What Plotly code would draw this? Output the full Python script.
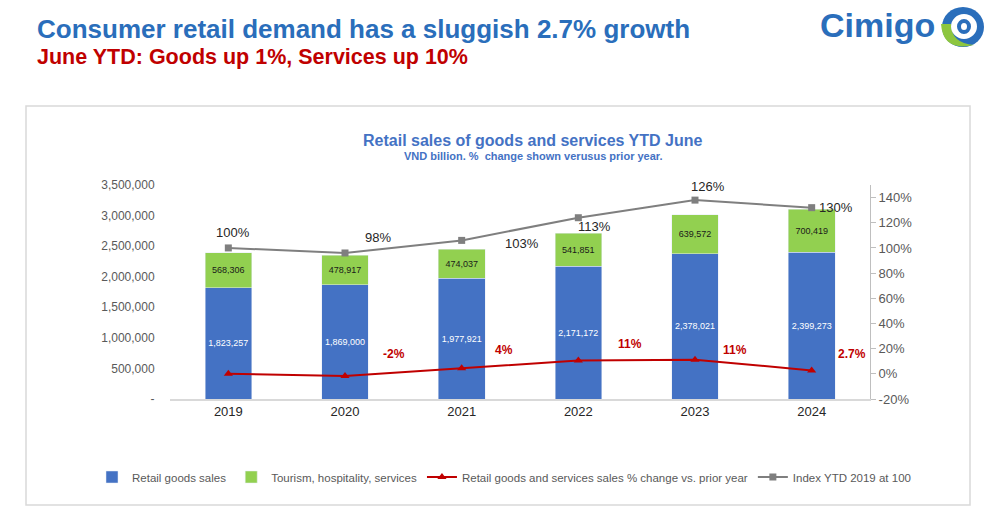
import plotly.graph_objects as go

years = ["2019", "2020", "2021", "2022", "2023", "2024"]
goods = [1823257, 1869000, 1977921, 2171172, 2378021, 2399273]
services = [568306, 478917, 474037, 541851, 639572, 700419]
pct_change = [0.0, -1.8, 4.4, 10.6, 11.2, 2.7]
pct_labels = ["", "-2%", "4%", "11%", "11%", "2.7%"]
index_plotted = [100, 96, 106, 124, 138, 132]
index_labels = ["100%", "98%", "103%", "113%", "126%", "130%"]
y1_ticks = [0, 500000, 1000000, 1500000, 2000000, 2500000, 3000000, 3500000]
y1_ticktext = ["-", "500,000", "1,000,000", "1,500,000", "2,000,000", "2,500,000", "3,000,000", "3,500,000"]
y2_ticks = [-20, 0, 20, 40, 60, 80, 100, 120, 140]

BLUE = "#4472C4"
GREEN = "#92D050"
RED = "#C00000"
GREY = "#7F7F7F"
FONT = "Liberation Sans"

fig = go.Figure()
fig.add_bar(x=years, y=goods, name="Retail goods sales", marker_color=BLUE,
            text=[f"{v:,}" for v in goods], textposition="inside", insidetextanchor="middle",
            textfont=dict(color="white", size=9, family=FONT), width=0.4)
fig.add_bar(x=years, y=services, name="Tourism, hospitality, services", marker_color=GREEN,
            text=[f"{v:,}" for v in services], textposition="inside", insidetextanchor="middle",
            textfont=dict(color="#1a1a1a", size=9, family=FONT), width=0.4)
fig.add_scatter(x=years, y=pct_change, name="Retail goods and services sales % change vs. prior year",
                yaxis="y2", mode="lines+markers", line=dict(color=RED, width=2),
                marker=dict(symbol="triangle-up", size=8, color=RED))
fig.add_scatter(x=years, y=index_plotted, name="Index YTD 2019 at 100",
                yaxis="y2", mode="lines+markers", line=dict(color=GREY, width=2),
                marker=dict(symbol="square", size=7, color=GREY))

# label offsets (pixels)
idx_shift = [(5, 15), (33, 15), (60, -3), (16, -9), (13, 14), (24, 0)]
for i, (v, lab, (dx, dy)) in enumerate(zip(index_plotted, index_labels, idx_shift)):
    fig.add_annotation(x=i, y=v, xref="x", yref="y2", text=lab, showarrow=False,
                       xshift=dx, yshift=dy, xanchor="center", yanchor="middle",
                       font=dict(size=13, color="#262626", family=FONT))
pct_shift = [(0, 0), (49, 22), (42, 18), (52, 16), (40, 10), (40, 16)]
for i, (v, lab, (dx, dy)) in enumerate(zip(pct_change, pct_labels, pct_shift)):
    if lab:
        fig.add_annotation(x=i, y=v, xref="x", yref="y2", text="<b>" + lab + "</b>", showarrow=False,
                           xshift=dx, yshift=dy, xanchor="center", yanchor="middle",
                           font=dict(size=12, color=RED, family=FONT))

L, R, T, B = 170, 130, 185, 123
W, H = 1000, 522
pw, ph = W - L - R, H - T - B


def px(x):
    return (x - L) / pw


def py(y):
    return (H - B - y) / ph


def note(x, y, text, size, color, xanchor="center"):
    fig.add_annotation(x=px(x), y=py(y), xref="paper", yref="paper", showarrow=False,
                       xanchor=xanchor, yanchor="middle", text=text,
                       font=dict(size=size, color=color, family=FONT))


note(532, 140, "<b>Retail sales of goods and services YTD June</b>", 16, BLUE)
note(533, 156, "<b>VND billion. %  change shown verusus prior year.</b>", 11, BLUE)
note(35, 29, "<b>Consumer retail demand has a sluggish 2.7% growth</b>", 26, "#2A6EBB", "left")
note(35, 57, "<b>June YTD: Goods up 1%, Services up 10%</b>", 21.5, RED, "left")
note(937, 25, "<b>Cimigo</b>", 34, "#2A6EBB", "right")

shapes = [
    dict(type="rect", xref="paper", yref="paper", x0=px(26), x1=px(970), y0=py(505), y1=py(106),
         line=dict(color="#D9D9D9", width=1.5), fillcolor="rgba(0,0,0,0)", layer="below"),
    dict(type="circle", xref="paper", yref="paper", x0=px(942), x1=px(984), y0=py(47), y1=py(7),
         line=dict(width=0), fillcolor="#2A6EBB"),
    dict(type="path", xref="paper", yref="paper",
         path=f"M {px(941)},{py(24)} Q {px(943)},{py(52)} {px(974)},{py(45)} Q {px(951)},{py(43)} {px(951)},{py(24)} Z",
         line=dict(width=0), fillcolor="#8DC63F"),
    dict(type="circle", xref="paper", yref="paper", x0=px(951), x1=px(977), y0=py(39), y1=py(14),
         line=dict(width=0), fillcolor="white"),
    dict(type="circle", xref="paper", yref="paper", x0=px(957), x1=px(971), y0=py(34), y1=py(19),
         line=dict(width=0), fillcolor="#2A6EBB"),
    dict(type="circle", xref="paper", yref="paper", x0=px(961), x1=px(967), y0=py(30), y1=py(23),
         line=dict(width=0), fillcolor="white"),
]

fig.update_layout(
    width=W, height=H, barmode="stack", bargap=0.6,
    margin=dict(l=L, r=R, t=T, b=B),
    plot_bgcolor="white", paper_bgcolor="white",
    font=dict(family=FONT, color="#595959"),
    showlegend=True,
    legend=dict(orientation="h", x=px(92), xanchor="left", y=py(477), yanchor="middle",
                traceorder="normal", font=dict(size=11.5, color="#595959"), tracegroupgap=0,
                itemwidth=30),
    xaxis=dict(type="category", showgrid=False, showline=True, linecolor="#D9D9D9", linewidth=1.5,
               tickfont=dict(size=13, color="#262626"), ticks="", range=[-0.5, 5.5]),
    yaxis=dict(range=[0, 3500000], tickvals=y1_ticks, ticktext=y1_ticktext, showgrid=False,
               zeroline=False, showline=False, tickfont=dict(size=12, color="#595959"), ticklen=12,
               ticks="outside", tickcolor="white"),
    yaxis2=dict(overlaying="y", side="right", range=[-20, 150], tickvals=y2_ticks,
                ticktext=[f"{v}%" for v in y2_ticks], showgrid=False, zeroline=False,
                showline=True, linecolor="#BFBFBF", linewidth=1, ticks="outside", tickcolor="#BFBFBF",
                ticklen=5, tickfont=dict(size=13, color="#595959")),
    shapes=shapes,
)

fig.write_html("out.html", config={"displayModeBar": False},
               post_script="document.body.style.margin='0';")
